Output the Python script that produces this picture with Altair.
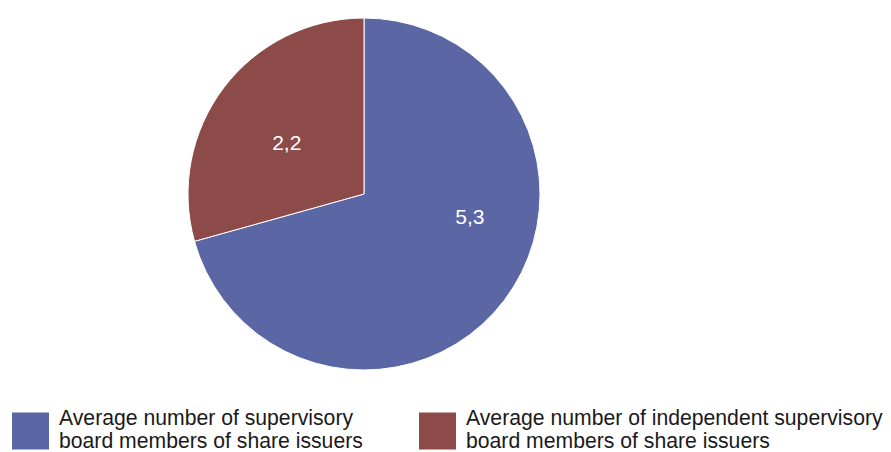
import altair as alt
import pandas as pd

categories = [
    "Average number of supervisory board members of share issuers",
    "Average number of independent supervisory board members of share issuers",
]
values = [5.3, 2.2]
value_labels = ["5,3", "2,2"]
order = [0, 1]
colors = ["#5b67a4", "#8c4a48"]

df = pd.DataFrame({"category": categories, "value": values,
                   "label": value_labels, "order": order})

FONT = "Liberation Sans"
CX, CY, R = 356, 186, 176

# square legend swatch, shifted down so it sits between the two label lines
SWATCH = "M-1,-0.324H1V1.676H-1Z"

pie = alt.Chart(df).mark_arc(outerRadius=R, stroke="white", strokeWidth=1).encode(
    theta=alt.Theta("value:Q", stack=True),
    order=alt.Order("order:Q"),
    x=alt.value(CX), y=alt.value(CY),
    color=alt.Color(
        "category:N",
        scale=alt.Scale(domain=categories, range=colors),
        sort=categories,
        legend=alt.Legend(
            title=None, orient="none", legendX=4, legendY=392,
            direction="horizontal", columns=2, columnPadding=56,
            symbolType=SWATCH, symbolSize=1369, symbolStrokeWidth=0,
            symbolOpacity=1, labelFont=FONT, labelFontSize=21.2,
            labelColor="#1a1a1a", labelLimit=600, labelOffset=10,
            padding=0,
            labelExpr="split(replace(datum.label, ' board ', '|board '), '|')",
        ),
    ),
)

labels_blue = alt.Chart(df).mark_text(radius=109, dx=19, dy=-42, font=FONT,
                                      fontSize=21, color="white").encode(
    theta=alt.Theta("value:Q", stack=True),
    order=alt.Order("order:Q"),
    x=alt.value(CX), y=alt.value(CY),
    text="label:N",
    opacity=alt.condition("datum.order == 0", alt.value(1), alt.value(0)),
)

labels_red = alt.Chart(df).mark_text(radius=92, dx=-4, dy=6, font=FONT,
                                     fontSize=21, color="white").encode(
    theta=alt.Theta("value:Q", stack=True),
    order=alt.Order("order:Q"),
    x=alt.value(CX), y=alt.value(CY),
    text="label:N",
    opacity=alt.condition("datum.order == 1", alt.value(1), alt.value(0)),
)

chart = alt.layer(pie, labels_blue, labels_red).properties(
    width=875, height=444, padding=0, autosize="none",
).configure_view(stroke=None)

chart.save("out.html", embed_options={"renderer": "svg", "actions": False})
